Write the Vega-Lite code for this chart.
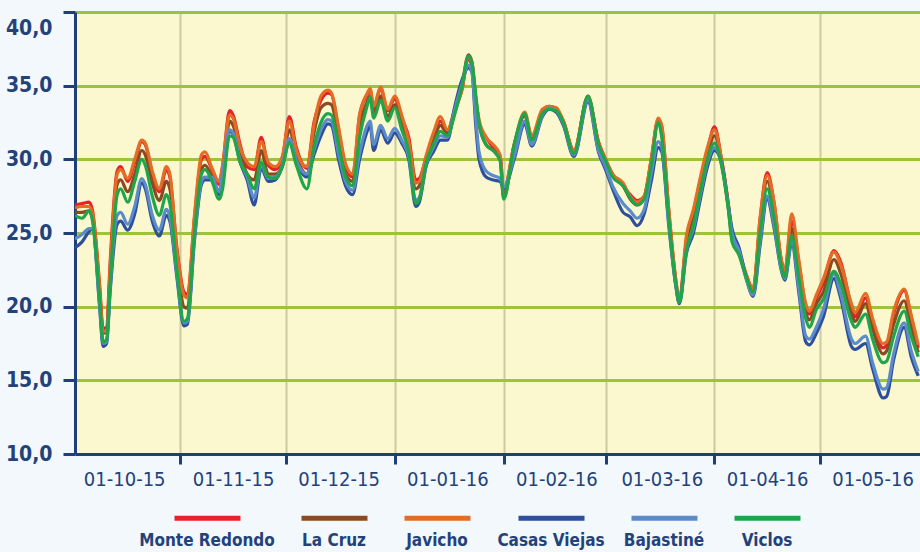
{
  "$schema": "https://vega.github.io/schema/vega-lite/v6.json",
  "width": 845,
  "height": 442,
  "autosize": "none",
  "padding": {"left": 75, "top": 12, "right": 0, "bottom": 98},
  "background": "#f3f8fc",
  "config": {
    "view": {"fill": "#fbf8d0", "stroke": null},
    "font": "Liberation Sans Narrow, DejaVu Sans Condensed, Arial Narrow, sans-serif"
  },
  "data": {"values": [
    {"d":"2015-10-02","Monte Redondo":26.9,"La Cruz":26.4,"Javicho":26.7,"Casas Viejas":24.0,"Bajastiné":24.6,"Viclos":26.2},
    {"d":"2015-10-04","Monte Redondo":27.0,"La Cruz":26.4,"Javicho":26.8,"Casas Viejas":24.4,"Bajastiné":24.9,"Viclos":26.0},
    {"d":"2015-10-06","Monte Redondo":27.1,"La Cruz":26.5,"Javicho":26.8,"Casas Viejas":25.1,"Bajastiné":25.3,"Viclos":26.5},
    {"d":"2015-10-07","Monte Redondo":26.5,"La Cruz":26.0,"Javicho":26.3,"Casas Viejas":25.3,"Bajastiné":25.3,"Viclos":25.8},
    {"d":"2015-10-09","Monte Redondo":21.5,"La Cruz":21.0,"Javicho":21.3,"Casas Viejas":20.0,"Bajastiné":20.2,"Viclos":20.5},
    {"d":"2015-10-10","Monte Redondo":18.5,"La Cruz":18.2,"Javicho":18.3,"Casas Viejas":17.3,"Bajastiné":17.5,"Viclos":17.6},
    {"d":"2015-10-11","Monte Redondo":18.6,"La Cruz":18.3,"Javicho":18.4,"Casas Viejas":17.5,"Bajastiné":17.6,"Viclos":17.8},
    {"d":"2015-10-12","Monte Redondo":23.0,"La Cruz":22.2,"Javicho":22.6,"Casas Viejas":21.0,"Bajastiné":21.3,"Viclos":21.5},
    {"d":"2015-10-14","Monte Redondo":29.2,"La Cruz":28.3,"Javicho":29.0,"Casas Viejas":25.6,"Bajastiné":26.2,"Viclos":27.6},
    {"d":"2015-10-15","Monte Redondo":29.5,"La Cruz":28.6,"Javicho":29.3,"Casas Viejas":25.8,"Bajastiné":26.4,"Viclos":28.0},
    {"d":"2015-10-17","Monte Redondo":28.5,"La Cruz":27.8,"Javicho":28.7,"Casas Viejas":25.2,"Bajastiné":25.6,"Viclos":27.1},
    {"d":"2015-10-19","Monte Redondo":29.8,"La Cruz":29.0,"Javicho":30.0,"Casas Viejas":26.3,"Bajastiné":26.8,"Viclos":28.5},
    {"d":"2015-10-21","Monte Redondo":31.2,"La Cruz":30.6,"Javicho":31.3,"Casas Viejas":28.4,"Bajastiné":28.7,"Viclos":30.0},
    {"d":"2015-10-22","Monte Redondo":31.0,"La Cruz":30.3,"Javicho":31.1,"Casas Viejas":28.0,"Bajastiné":28.3,"Viclos":29.6},
    {"d":"2015-10-24","Monte Redondo":29.0,"La Cruz":28.4,"Javicho":29.2,"Casas Viejas":25.8,"Bajastiné":26.2,"Viclos":27.5},
    {"d":"2015-10-26","Monte Redondo":27.8,"La Cruz":27.2,"Javicho":28.0,"Casas Viejas":24.8,"Bajastiné":25.2,"Viclos":26.2},
    {"d":"2015-10-28","Monte Redondo":29.3,"La Cruz":28.5,"Javicho":29.5,"Casas Viejas":26.2,"Bajastiné":26.6,"Viclos":27.6},
    {"d":"2015-10-29","Monte Redondo":28.8,"La Cruz":28.0,"Javicho":29.0,"Casas Viejas":25.8,"Bajastiné":26.1,"Viclos":27.0},
    {"d":"2015-10-31","Monte Redondo":24.0,"La Cruz":23.3,"Javicho":23.8,"Casas Viejas":22.0,"Bajastiné":22.2,"Viclos":22.5},
    {"d":"2015-11-02","Monte Redondo":21.0,"La Cruz":20.0,"Javicho":20.8,"Casas Viejas":18.7,"Bajastiné":18.9,"Viclos":19.0},
    {"d":"2015-11-03","Monte Redondo":20.8,"La Cruz":19.9,"Javicho":20.6,"Casas Viejas":18.8,"Bajastiné":19.0,"Viclos":19.2},
    {"d":"2015-11-05","Monte Redondo":26.0,"La Cruz":25.5,"Javicho":26.2,"Casas Viejas":24.5,"Bajastiné":24.7,"Viclos":25.0},
    {"d":"2015-11-07","Monte Redondo":30.0,"La Cruz":29.3,"Javicho":30.3,"Casas Viejas":28.3,"Bajastiné":28.5,"Viclos":29.0},
    {"d":"2015-11-08","Monte Redondo":30.2,"La Cruz":29.6,"Javicho":30.5,"Casas Viejas":28.6,"Bajastiné":28.8,"Viclos":29.3},
    {"d":"2015-11-10","Monte Redondo":29.3,"La Cruz":28.8,"Javicho":29.4,"Casas Viejas":28.6,"Bajastiné":28.8,"Viclos":28.5},
    {"d":"2015-11-12","Monte Redondo":28.3,"La Cruz":27.8,"Javicho":28.5,"Casas Viejas":27.6,"Bajastiné":27.8,"Viclos":27.3},
    {"d":"2015-11-13","Monte Redondo":29.5,"La Cruz":28.8,"Javicho":29.6,"Casas Viejas":28.8,"Bajastiné":29.0,"Viclos":28.0},
    {"d":"2015-11-15","Monte Redondo":33.3,"La Cruz":32.6,"Javicho":33.0,"Casas Viejas":31.9,"Bajastiné":32.0,"Viclos":31.6},
    {"d":"2015-11-16","Monte Redondo":33.0,"La Cruz":32.3,"Javicho":32.8,"Casas Viejas":31.7,"Bajastiné":31.8,"Viclos":31.5},
    {"d":"2015-11-18","Monte Redondo":31.0,"La Cruz":30.4,"Javicho":30.8,"Casas Viejas":29.8,"Bajastiné":29.9,"Viclos":29.8},
    {"d":"2015-11-20","Monte Redondo":29.5,"La Cruz":29.0,"Javicho":29.8,"Casas Viejas":28.6,"Bajastiné":28.8,"Viclos":29.0},
    {"d":"2015-11-22","Monte Redondo":29.3,"La Cruz":28.6,"Javicho":29.5,"Casas Viejas":26.9,"Bajastiné":27.4,"Viclos":28.0},
    {"d":"2015-11-24","Monte Redondo":31.5,"La Cruz":30.6,"Javicho":31.2,"Casas Viejas":29.4,"Bajastiné":29.6,"Viclos":29.8},
    {"d":"2015-11-26","Monte Redondo":29.6,"La Cruz":29.0,"Javicho":29.8,"Casas Viejas":28.5,"Bajastiné":28.7,"Viclos":28.8},
    {"d":"2015-11-28","Monte Redondo":29.3,"La Cruz":29.0,"Javicho":29.5,"Casas Viejas":28.6,"Bajastiné":28.8,"Viclos":28.7},
    {"d":"2015-11-30","Monte Redondo":30.0,"La Cruz":29.6,"Javicho":30.2,"Casas Viejas":29.5,"Bajastiné":29.6,"Viclos":29.5},
    {"d":"2015-12-02","Monte Redondo":32.9,"La Cruz":32.0,"Javicho":32.6,"Casas Viejas":31.2,"Bajastiné":31.4,"Viclos":31.1},
    {"d":"2015-12-04","Monte Redondo":30.8,"La Cruz":30.2,"Javicho":30.6,"Casas Viejas":29.8,"Bajastiné":29.9,"Viclos":29.6},
    {"d":"2015-12-07","Monte Redondo":29.4,"La Cruz":29.0,"Javicho":29.5,"Casas Viejas":28.8,"Bajastiné":29.0,"Viclos":28.0},
    {"d":"2015-12-09","Monte Redondo":32.5,"La Cruz":31.8,"Javicho":32.3,"Casas Viejas":30.3,"Bajastiné":30.6,"Viclos":30.8},
    {"d":"2015-12-11","Monte Redondo":34.0,"La Cruz":33.5,"Javicho":34.3,"Casas Viejas":31.6,"Bajastiné":32.0,"Viclos":32.5},
    {"d":"2015-12-13","Monte Redondo":34.5,"La Cruz":33.8,"Javicho":34.7,"Casas Viejas":32.4,"Bajastiné":32.7,"Viclos":33.1},
    {"d":"2015-12-14","Monte Redondo":34.4,"La Cruz":33.7,"Javicho":34.5,"Casas Viejas":32.3,"Bajastiné":32.6,"Viclos":33.0},
    {"d":"2015-12-16","Monte Redondo":32.0,"La Cruz":31.5,"Javicho":32.2,"Casas Viejas":30.0,"Bajastiné":30.4,"Viclos":31.0},
    {"d":"2015-12-18","Monte Redondo":29.5,"La Cruz":29.0,"Javicho":29.7,"Casas Viejas":28.2,"Bajastiné":28.5,"Viclos":28.8},
    {"d":"2015-12-20","Monte Redondo":28.8,"La Cruz":28.5,"Javicho":29.0,"Casas Viejas":27.6,"Bajastiné":27.9,"Viclos":28.2},
    {"d":"2015-12-22","Monte Redondo":33.0,"La Cruz":32.3,"Javicho":33.0,"Casas Viejas":30.0,"Bajastiné":30.4,"Viclos":31.5},
    {"d":"2015-12-24","Monte Redondo":34.3,"La Cruz":33.8,"Javicho":34.4,"Casas Viejas":31.8,"Bajastiné":32.2,"Viclos":33.5},
    {"d":"2015-12-25","Monte Redondo":34.7,"La Cruz":34.3,"Javicho":34.8,"Casas Viejas":32.3,"Bajastiné":32.6,"Viclos":34.2},
    {"d":"2015-12-26","Monte Redondo":33.5,"La Cruz":33.1,"Javicho":33.6,"Casas Viejas":30.6,"Bajastiné":31.0,"Viclos":32.8},
    {"d":"2015-12-28","Monte Redondo":34.8,"La Cruz":34.3,"Javicho":34.9,"Casas Viejas":32.0,"Bajastiné":32.3,"Viclos":34.0},
    {"d":"2015-12-30","Monte Redondo":33.3,"La Cruz":32.9,"Javicho":33.4,"Casas Viejas":31.1,"Bajastiné":31.4,"Viclos":32.6},
    {"d":"2016-01-01","Monte Redondo":34.1,"La Cruz":33.7,"Javicho":34.3,"Casas Viejas":31.8,"Bajastiné":32.1,"Viclos":33.5},
    {"d":"2016-01-03","Monte Redondo":32.8,"La Cruz":32.4,"Javicho":33.0,"Casas Viejas":31.1,"Bajastiné":31.3,"Viclos":32.0},
    {"d":"2016-01-05","Monte Redondo":31.5,"La Cruz":30.8,"Javicho":31.2,"Casas Viejas":30.0,"Bajastiné":30.2,"Viclos":30.5},
    {"d":"2016-01-07","Monte Redondo":28.6,"La Cruz":28.0,"Javicho":28.4,"Casas Viejas":26.8,"Bajastiné":27.2,"Viclos":27.0},
    {"d":"2016-01-08","Monte Redondo":28.7,"La Cruz":28.2,"Javicho":28.5,"Casas Viejas":27.1,"Bajastiné":27.4,"Viclos":27.3},
    {"d":"2016-01-10","Monte Redondo":30.2,"La Cruz":30.0,"Javicho":30.3,"Casas Viejas":29.6,"Bajastiné":29.7,"Viclos":29.8},
    {"d":"2016-01-12","Monte Redondo":31.6,"La Cruz":31.2,"Javicho":31.8,"Casas Viejas":30.5,"Bajastiné":30.8,"Viclos":31.0},
    {"d":"2016-01-14","Monte Redondo":32.6,"La Cruz":32.3,"Javicho":32.9,"Casas Viejas":31.3,"Bajastiné":31.6,"Viclos":31.9},
    {"d":"2016-01-16","Monte Redondo":31.9,"La Cruz":31.7,"Javicho":32.0,"Casas Viejas":31.3,"Bajastiné":31.5,"Viclos":31.6},
    {"d":"2016-01-18","Monte Redondo":33.3,"La Cruz":33.1,"Javicho":33.3,"Casas Viejas":33.5,"Bajastiné":33.3,"Viclos":33.0},
    {"d":"2016-01-20","Monte Redondo":34.6,"La Cruz":34.8,"Javicho":34.6,"Casas Viejas":35.3,"Bajastiné":35.0,"Viclos":34.8},
    {"d":"2016-01-22","Monte Redondo":36.8,"La Cruz":37.1,"Javicho":36.9,"Casas Viejas":36.2,"Bajastiné":36.4,"Viclos":37.0},
    {"d":"2016-01-23","Monte Redondo":36.3,"La Cruz":36.6,"Javicho":36.5,"Casas Viejas":35.9,"Bajastiné":35.9,"Viclos":36.5},
    {"d":"2016-01-24","Monte Redondo":34.0,"La Cruz":34.3,"Javicho":34.2,"Casas Viejas":32.5,"Bajastiné":33.0,"Viclos":34.5},
    {"d":"2016-01-25","Monte Redondo":32.5,"La Cruz":32.4,"Javicho":32.7,"Casas Viejas":30.0,"Bajastiné":30.5,"Viclos":32.5},
    {"d":"2016-01-27","Monte Redondo":31.5,"La Cruz":31.0,"Javicho":31.5,"Casas Viejas":28.8,"Bajastiné":29.2,"Viclos":31.0},
    {"d":"2016-01-29","Monte Redondo":30.8,"La Cruz":30.6,"Javicho":31.0,"Casas Viejas":28.6,"Bajastiné":28.9,"Viclos":30.6},
    {"d":"2016-01-31","Monte Redondo":30.2,"La Cruz":30.0,"Javicho":30.3,"Casas Viejas":28.5,"Bajastiné":28.7,"Viclos":29.9},
    {"d":"2016-02-01","Monte Redondo":27.8,"La Cruz":27.4,"Javicho":27.9,"Casas Viejas":28.0,"Bajastiné":28.1,"Viclos":27.3},
    {"d":"2016-02-04","Monte Redondo":31.0,"La Cruz":30.9,"Javicho":31.0,"Casas Viejas":30.0,"Bajastiné":30.2,"Viclos":31.0},
    {"d":"2016-02-07","Monte Redondo":33.0,"La Cruz":33.0,"Javicho":33.2,"Casas Viejas":32.4,"Bajastiné":32.6,"Viclos":33.1},
    {"d":"2016-02-09","Monte Redondo":31.5,"La Cruz":31.4,"Javicho":31.6,"Casas Viejas":30.9,"Bajastiné":31.0,"Viclos":31.3},
    {"d":"2016-02-12","Monte Redondo":33.3,"La Cruz":33.2,"Javicho":33.4,"Casas Viejas":32.9,"Bajastiné":33.0,"Viclos":33.1},
    {"d":"2016-02-14","Monte Redondo":33.6,"La Cruz":33.5,"Javicho":33.6,"Casas Viejas":33.4,"Bajastiné":33.5,"Viclos":33.4},
    {"d":"2016-02-16","Monte Redondo":33.4,"La Cruz":33.3,"Javicho":33.5,"Casas Viejas":33.2,"Bajastiné":33.3,"Viclos":33.3},
    {"d":"2016-02-18","Monte Redondo":32.6,"La Cruz":32.5,"Javicho":32.6,"Casas Viejas":32.3,"Bajastiné":32.4,"Viclos":32.5},
    {"d":"2016-02-21","Monte Redondo":30.6,"La Cruz":30.4,"Javicho":30.6,"Casas Viejas":30.2,"Bajastiné":30.3,"Viclos":30.4},
    {"d":"2016-02-25","Monte Redondo":34.2,"La Cruz":34.3,"Javicho":34.2,"Casas Viejas":33.9,"Bajastiné":34.0,"Viclos":34.3},
    {"d":"2016-02-28","Monte Redondo":31.2,"La Cruz":31.0,"Javicho":31.1,"Casas Viejas":30.5,"Bajastiné":30.6,"Viclos":31.0},
    {"d":"2016-03-01","Monte Redondo":30.0,"La Cruz":29.9,"Javicho":30.0,"Casas Viejas":29.3,"Bajastiné":29.5,"Viclos":29.9},
    {"d":"2016-03-03","Monte Redondo":29.0,"La Cruz":28.9,"Javicho":29.0,"Casas Viejas":28.0,"Bajastiné":28.2,"Viclos":28.8},
    {"d":"2016-03-06","Monte Redondo":28.2,"La Cruz":28.2,"Javicho":28.4,"Casas Viejas":26.4,"Bajastiné":27.0,"Viclos":28.2},
    {"d":"2016-03-08","Monte Redondo":27.6,"La Cruz":27.3,"Javicho":27.5,"Casas Viejas":26.1,"Bajastiné":26.5,"Viclos":27.4},
    {"d":"2016-03-10","Monte Redondo":27.2,"La Cruz":26.9,"Javicho":27.1,"Casas Viejas":25.5,"Bajastiné":26.0,"Viclos":26.9},
    {"d":"2016-03-12","Monte Redondo":27.5,"La Cruz":27.4,"Javicho":27.5,"Casas Viejas":26.3,"Bajastiné":26.6,"Viclos":27.3},
    {"d":"2016-03-14","Monte Redondo":30.0,"La Cruz":29.8,"Javicho":30.0,"Casas Viejas":28.5,"Bajastiné":29.0,"Viclos":29.6},
    {"d":"2016-03-16","Monte Redondo":32.7,"La Cruz":32.6,"Javicho":32.8,"Casas Viejas":30.8,"Bajastiné":31.2,"Viclos":32.5},
    {"d":"2016-03-17","Monte Redondo":32.2,"La Cruz":31.8,"Javicho":32.3,"Casas Viejas":30.5,"Bajastiné":30.8,"Viclos":31.5},
    {"d":"2016-03-19","Monte Redondo":26.5,"La Cruz":26.2,"Javicho":26.6,"Casas Viejas":25.5,"Bajastiné":25.7,"Viclos":26.0},
    {"d":"2016-03-21","Monte Redondo":21.8,"La Cruz":21.6,"Javicho":21.8,"Casas Viejas":21.4,"Bajastiné":21.5,"Viclos":21.5},
    {"d":"2016-03-22","Monte Redondo":20.4,"La Cruz":20.3,"Javicho":20.4,"Casas Viejas":20.2,"Bajastiné":20.3,"Viclos":20.3},
    {"d":"2016-03-24","Monte Redondo":24.5,"La Cruz":24.3,"Javicho":24.8,"Casas Viejas":23.6,"Bajastiné":23.8,"Viclos":23.8},
    {"d":"2016-03-26","Monte Redondo":26.4,"La Cruz":26.0,"Javicho":26.6,"Casas Viejas":25.0,"Bajastiné":25.3,"Viclos":25.5},
    {"d":"2016-03-28","Monte Redondo":28.6,"La Cruz":28.3,"Javicho":28.8,"Casas Viejas":27.3,"Bajastiné":27.6,"Viclos":27.8},
    {"d":"2016-03-30","Monte Redondo":30.6,"La Cruz":30.3,"Javicho":30.8,"Casas Viejas":29.5,"Bajastiné":29.8,"Viclos":30.0},
    {"d":"2016-04-01","Monte Redondo":32.2,"La Cruz":31.6,"Javicho":32.0,"Casas Viejas":30.6,"Bajastiné":30.8,"Viclos":31.1},
    {"d":"2016-04-03","Monte Redondo":30.0,"La Cruz":29.8,"Javicho":30.0,"Casas Viejas":29.8,"Bajastiné":29.7,"Viclos":29.6},
    {"d":"2016-04-05","Monte Redondo":26.8,"La Cruz":26.6,"Javicho":26.9,"Casas Viejas":26.8,"Bajastiné":26.7,"Viclos":26.5},
    {"d":"2016-04-06","Monte Redondo":24.8,"La Cruz":24.6,"Javicho":24.9,"Casas Viejas":25.3,"Bajastiné":25.0,"Viclos":24.4},
    {"d":"2016-04-08","Monte Redondo":23.7,"La Cruz":23.6,"Javicho":23.8,"Casas Viejas":24.0,"Bajastiné":23.8,"Viclos":23.5},
    {"d":"2016-04-10","Monte Redondo":22.2,"La Cruz":22.1,"Javicho":22.2,"Casas Viejas":22.0,"Bajastiné":21.9,"Viclos":22.0},
    {"d":"2016-04-12","Monte Redondo":21.2,"La Cruz":21.1,"Javicho":21.2,"Casas Viejas":20.7,"Bajastiné":20.8,"Viclos":21.0},
    {"d":"2016-04-14","Monte Redondo":26.0,"La Cruz":25.5,"Javicho":26.0,"Casas Viejas":24.2,"Bajastiné":24.5,"Viclos":25.0},
    {"d":"2016-04-16","Monte Redondo":29.1,"La Cruz":28.5,"Javicho":28.9,"Casas Viejas":27.3,"Bajastiné":27.5,"Viclos":28.0},
    {"d":"2016-04-18","Monte Redondo":27.0,"La Cruz":26.5,"Javicho":27.0,"Casas Viejas":25.3,"Bajastiné":25.5,"Viclos":26.0},
    {"d":"2016-04-20","Monte Redondo":23.2,"La Cruz":22.9,"Javicho":23.2,"Casas Viejas":22.5,"Bajastiné":22.6,"Viclos":22.8},
    {"d":"2016-04-21","Monte Redondo":22.4,"La Cruz":22.1,"Javicho":22.4,"Casas Viejas":21.8,"Bajastiné":21.9,"Viclos":22.0},
    {"d":"2016-04-23","Monte Redondo":25.8,"La Cruz":25.3,"Javicho":26.3,"Casas Viejas":24.3,"Bajastiné":24.5,"Viclos":24.8},
    {"d":"2016-04-25","Monte Redondo":23.0,"La Cruz":22.5,"Javicho":23.2,"Casas Viejas":21.0,"Bajastiné":21.3,"Viclos":22.0},
    {"d":"2016-04-27","Monte Redondo":20.0,"La Cruz":19.6,"Javicho":20.2,"Casas Viejas":17.6,"Bajastiné":18.0,"Viclos":19.2},
    {"d":"2016-04-28","Monte Redondo":19.5,"La Cruz":19.1,"Javicho":19.7,"Casas Viejas":17.4,"Bajastiné":17.8,"Viclos":18.6},
    {"d":"2016-04-30","Monte Redondo":20.6,"La Cruz":20.2,"Javicho":20.8,"Casas Viejas":18.2,"Bajastiné":18.6,"Viclos":19.8},
    {"d":"2016-05-02","Monte Redondo":21.6,"La Cruz":21.0,"Javicho":21.9,"Casas Viejas":19.3,"Bajastiné":19.8,"Viclos":20.5},
    {"d":"2016-05-05","Monte Redondo":23.8,"La Cruz":23.2,"Javicho":23.7,"Casas Viejas":21.9,"Bajastiné":22.2,"Viclos":22.4},
    {"d":"2016-05-07","Monte Redondo":23.0,"La Cruz":22.2,"Javicho":22.8,"Casas Viejas":20.5,"Bajastiné":20.8,"Viclos":21.5},
    {"d":"2016-05-10","Monte Redondo":20.0,"La Cruz":19.5,"Javicho":20.2,"Casas Viejas":17.3,"Bajastiné":17.8,"Viclos":19.0},
    {"d":"2016-05-11","Monte Redondo":19.3,"La Cruz":19.0,"Javicho":19.6,"Casas Viejas":17.1,"Bajastiné":17.5,"Viclos":18.6},
    {"d":"2016-05-14","Monte Redondo":20.6,"La Cruz":20.2,"Javicho":20.9,"Casas Viejas":17.5,"Bajastiné":18.0,"Viclos":19.5},
    {"d":"2016-05-16","Monte Redondo":19.0,"La Cruz":18.5,"Javicho":19.2,"Casas Viejas":15.8,"Bajastiné":16.2,"Viclos":17.8},
    {"d":"2016-05-19","Monte Redondo":17.2,"La Cruz":16.8,"Javicho":17.5,"Casas Viejas":13.8,"Bajastiné":14.4,"Viclos":16.2},
    {"d":"2016-05-20","Monte Redondo":17.4,"La Cruz":17.0,"Javicho":17.6,"Casas Viejas":13.9,"Bajastiné":14.5,"Viclos":16.3},
    {"d":"2016-05-22","Monte Redondo":19.5,"La Cruz":18.8,"Javicho":19.7,"Casas Viejas":16.4,"Bajastiné":16.8,"Viclos":18.0},
    {"d":"2016-05-25","Monte Redondo":21.1,"La Cruz":20.4,"Javicho":21.2,"Casas Viejas":18.6,"Bajastiné":18.9,"Viclos":19.7},
    {"d":"2016-05-27","Monte Redondo":19.3,"La Cruz":18.6,"Javicho":19.4,"Casas Viejas":16.6,"Bajastiné":17.0,"Viclos":18.0},
    {"d":"2016-05-29","Monte Redondo":17.2,"La Cruz":16.9,"Javicho":17.4,"Casas Viejas":15.3,"Bajastiné":15.6,"Viclos":16.6}
  ]},
  "transform": [
    {"fold": ["Monte Redondo", "La Cruz", "Javicho", "Casas Viejas", "Bajastiné", "Viclos"], "as": ["serie", "valor"]}
  ],
  "mark": {"type": "line", "strokeWidth": 3.2, "interpolate": "monotone", "clip": true},
  "encoding": {
    "x": {
      "field": "d", "type": "temporal",
      "scale": {"type": "utc", "domain": [{"year": 2015, "month": 10, "date": 2, "utc": true}, {"year": 2016, "month": 5, "date": 29, "hours": 12, "utc": true}]},
      "axis": {
        "title": null,
        "values": [
          {"year": 2015, "month": 10, "date": 16, "utc": true},
          {"year": 2015, "month": 11, "date": 1, "utc": true},
          {"year": 2015, "month": 11, "date": 16, "utc": true},
          {"year": 2015, "month": 12, "date": 1, "utc": true},
          {"year": 2015, "month": 12, "date": 16, "utc": true},
          {"year": 2016, "month": 1, "date": 1, "utc": true},
          {"year": 2016, "month": 1, "date": 16, "utc": true},
          {"year": 2016, "month": 2, "date": 1, "utc": true},
          {"year": 2016, "month": 2, "date": 16, "utc": true},
          {"year": 2016, "month": 3, "date": 1, "utc": true},
          {"year": 2016, "month": 3, "date": 17, "utc": true},
          {"year": 2016, "month": 4, "date": 1, "utc": true},
          {"year": 2016, "month": 4, "date": 16, "utc": true},
          {"year": 2016, "month": 5, "date": 1, "utc": true},
          {"year": 2016, "month": 5, "date": 16, "utc": true}
        ],
        "labelExpr": "utcdate(datum.value) == 1 ? '' : '01-' + utcFormat(datum.value, '%m-%y')",
        "labelOverlap": false,
        "labelFlush": false,
        "labelFontSize": 20,
        "labelColor": "#24427a",
        "labelPadding": 5,
        "grid": true,
        "gridColor": "#cdcaa0",
        "gridWidth": 2,
        "gridOpacity": {"condition": {"test": "utcdate(datum.value) == 1", "value": 1}, "value": 0},
        "ticks": true,
        "tickSize": 10,
        "tickWidth": 3,
        "tickColor": "#1f3f7a",
        "tickOpacity": {"condition": {"test": "utcdate(datum.value) == 1", "value": 1}, "value": 0},
        "domainColor": "#1f3f7a",
        "domainWidth": 3
      }
    },
    "y": {
      "field": "valor", "type": "quantitative",
      "scale": {"domain": [10, 40], "nice": false, "zero": false},
      "axis": {
        "title": null,
        "values": [10, 15, 20, 25, 30, 35, 40],
        "labelExpr": "replace(format(datum.value, '.1f'), '.', ',')",
        "labelFontSize": 21,
        "labelFontWeight": "bold",
        "labelColor": "#24427a",
        "labelPadding": 11,
        "labelOffset": {"condition": {"test": "datum.value == 40", "value": 16}, "value": 0},
        "grid": true,
        "gridColor": "#9cc43a",
        "gridWidth": 3,
        "gridOpacity": {"condition": {"test": "datum.value == 10", "value": 0}, "value": 1},
        "tickSize": 12,
        "tickWidth": 3,
        "tickColor": "#1f3f7a",
        "domainColor": "#1f3f7a",
        "domainWidth": 3
      }
    },
    "color": {
      "field": "serie", "type": "nominal",
      "scale": {
        "domain": ["Monte Redondo", "La Cruz", "Javicho", "Casas Viejas", "Bajastiné", "Viclos"],
        "range": ["#e8202a", "#8b4a22", "#e46d26", "#2e4e9e", "#5b8bc9", "#20a64a"]
      },
      "legend": {
        "title": null,
        "orient": "none",
        "legendX": 97,
        "legendY": 493,
        "direction": "horizontal",
        "columns": 6,
        "padding": 0,
        "symbolType": "M-1,-0.68L1,-0.68",
        "symbolSize": 4356,
        "symbolStrokeWidth": 5,
        "labelAlign": "center",
        "labelOffset": -36,
        "columnPadding": 16,
        "labelFontSize": 17,
        "labelFontWeight": "bold",
        "labelColor": "#24427a",
        "labelLimit": 300
      }
    }
  }
}
